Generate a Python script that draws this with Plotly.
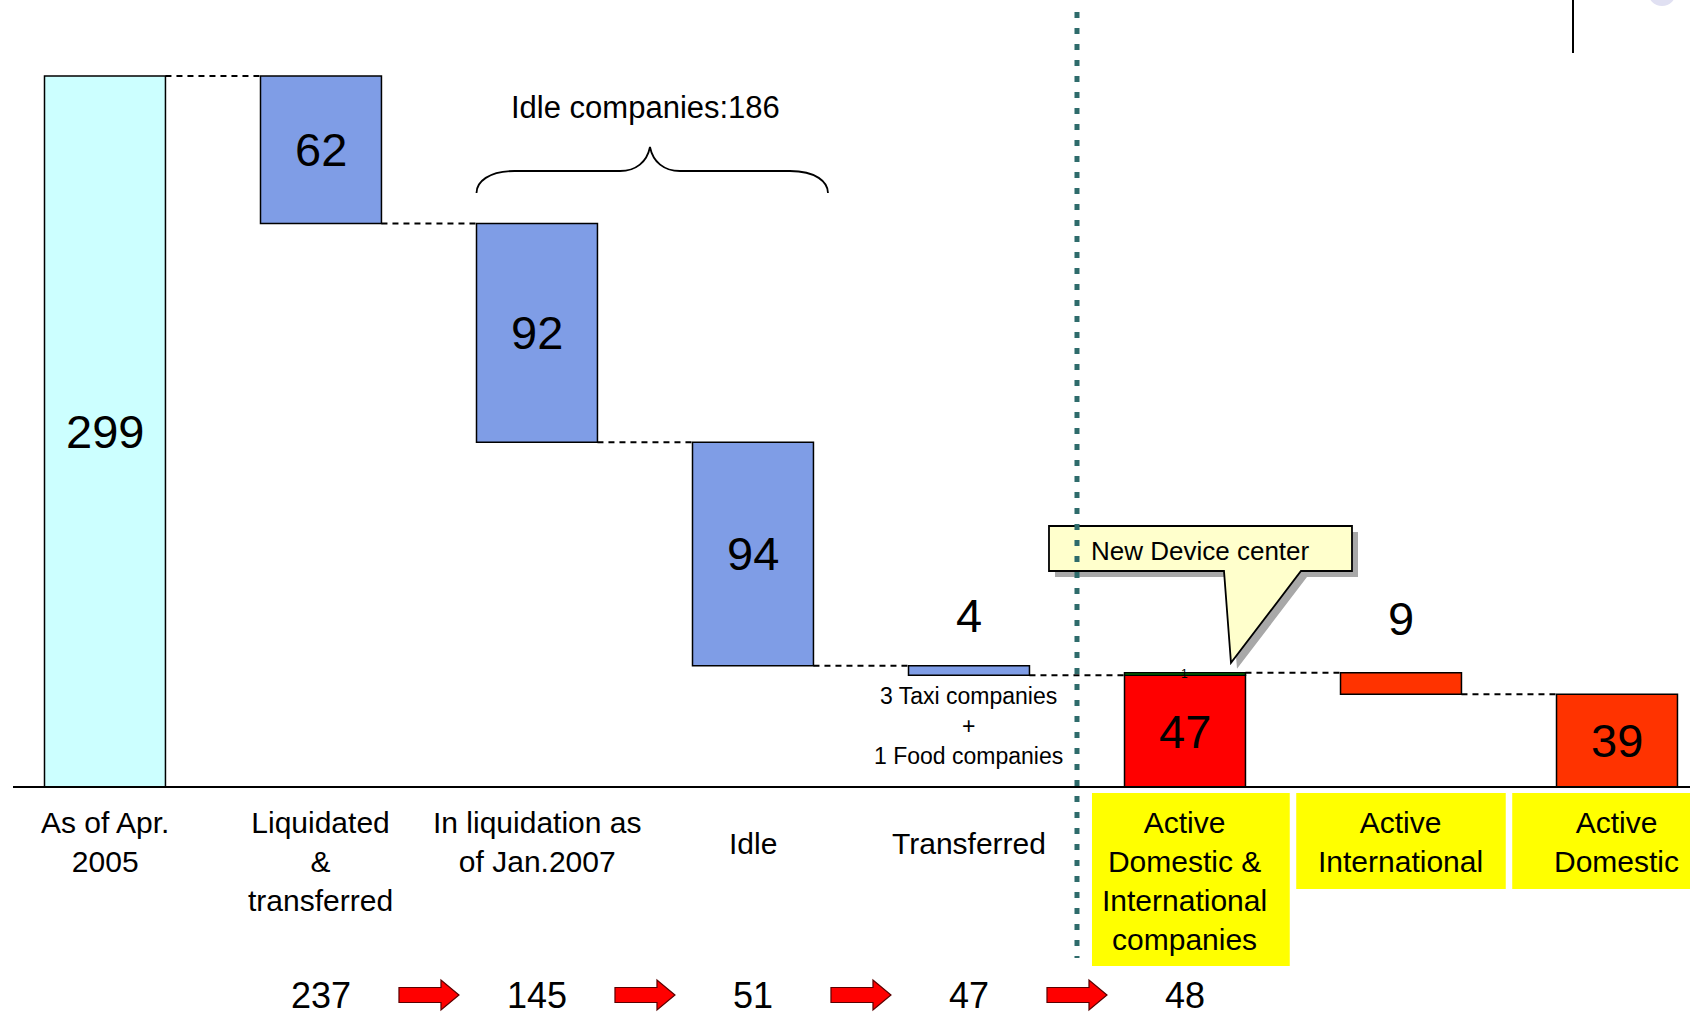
import plotly.graph_objects as go

# ---------------- data ----------------
categories = ["As of Apr.<br>2005", "Liquidated<br>&<br>transferred",
              "In liquidation as<br>of Jan.2007", "Idle", "Transferred",
              "Active<br>Domestic &<br>International<br>companies",
              "Active<br>International", "Active<br>Domestic"]
start_total = 299
decreases = [62, 92, 94, 4]          # liquidated & transferred, in liquidation, idle, transferred
active_both = 47
new_device_center = 1
active_international = 9
active_domestic = 39
remaining = [237, 145, 51, 47, 48]
idle_companies = 186
transferred_note = "3 Taxi companies<br>+<br>1 Food companies"

# ---------------- styling / geometry ----------------
W, H = 1690, 1015
FONT = "Liberation Sans, Arial, Helvetica, sans-serif"
CYAN, BLUE, RED, GREEN, ORANGE = "#CCFFFF", "#7F9DE6", "#FF0000", "#009900", "#FF3300"
YELLOW, CALLOUT = "#FFFF00", "#FFFFCC"
BAR_W = 0.56
x_range = [-0.486, 7.338]
base_px, top_px = 787, 76
px_per_unit = (base_px - top_px) / start_total
y_range = [-(H - base_px) / px_per_unit, base_px / px_per_unit]
px_per_cat = W / (x_range[1] - x_range[0])


def py(p):
    return 1 - p / H


def dx(p):
    return p / px_per_cat


def ypx(v):
    return base_px - v * px_per_unit


# ---------------- bars ----------------
xs, bases, heights, colors = [0], [0], [start_total], [CYAN]
level = start_total
levels = [start_total]
for i, d in enumerate(decreases, start=1):
    level -= d
    xs.append(i); bases.append(level); heights.append(d); colors.append(BLUE)
    levels.append(level)
total_active = active_both + new_device_center
xs += [5, 5, 6, 7]
bases += [0, active_both, total_active - active_international, 0]
heights += [active_both, new_device_center, active_international, active_domestic]
colors += [RED, GREEN, ORANGE, ORANGE]

fig = go.Figure()
fig.add_trace(go.Bar(x=xs, y=heights, base=bases, width=BAR_W,
                     marker=dict(color=colors, line=dict(color="black", width=1.5)),
                     hoverinfo="skip", showlegend=False))

shapes = []
ann = []

# connectors
conn = [(0, start_total)] + [(i, levels[i]) for i in range(1, 4)] + \
       [(4, levels[4]), (5, total_active), (6, total_active - active_international)]
for i, lv in conn:
    shapes.append(dict(type="line", xref="x", yref="y", x0=i + BAR_W / 2, x1=i + 1 - BAR_W / 2,
                       y0=lv, y1=lv, line=dict(color="black", width=2, dash="6px,5px"), layer="below"))

# baseline
shapes.append(dict(type="line", xref="paper", yref="y", x0=13 / W, x1=1, y0=0, y1=0,
                   line=dict(color="black", width=2)))

# value labels inside bars
inside = [(0, 0, start_total), (1, levels[1], decreases[0]), (2, levels[2], decreases[1]),
          (3, levels[3], decreases[2]), (5, 0, active_both), (7, 0, active_domestic)]
for i, b, h in inside:
    ann.append(dict(x=i, y=b + h / 2, xref="x", yref="y", text=str(h), showarrow=False,
                    yanchor="middle", font=dict(size=47, color="black", family=FONT)))
# labels above small bars
ann.append(dict(x=4, y=levels[3], xref="x", yref="y", text=str(decreases[3]), showarrow=False,
                yanchor="bottom", yshift=22, font=dict(size=47, color="black", family=FONT)))
ann.append(dict(x=6, y=total_active, xref="x", yref="y", text=str(active_international),
                showarrow=False, yanchor="bottom", yshift=26,
                font=dict(size=47, color="black", family=FONT)))
ann.append(dict(x=5, y=active_both + new_device_center / 2, xref="x", yref="y",
                text=str(new_device_center), showarrow=False, yanchor="middle",
                font=dict(size=12, color="black", family=FONT)))

# note under transferred bar
ann.append(dict(x=4, y=levels[4], xref="x", yref="y", text=transferred_note, showarrow=False,
                yanchor="top", yshift=-6, font=dict(size=23, color="black", family=FONT)))

# idle companies brace + text
bx0, bx1, bxt = 2 - BAR_W / 2, 3 + dx(75), 2 + dx(113)
yt, ym, ye = py(147), py(171), py(193)
brace = (f"M {bx0},{ye} C {bx0},{py(182)} {bx0 + dx(12)},{ym} {bx0 + dx(38)},{ym} "
         f"L {bxt - dx(30)},{ym} C {bxt - dx(14)},{ym} {bxt - dx(3)},{py(162)} {bxt},{yt} "
         f"C {bxt + dx(3)},{py(162)} {bxt + dx(14)},{ym} {bxt + dx(30)},{ym} "
         f"L {bx1 - dx(38)},{ym} C {bx1 - dx(12)},{ym} {bx1},{py(182)} {bx1},{ye}")
shapes.append(dict(type="path", xref="x", yref="paper", path=brace,
                   line=dict(color="black", width=1.8)))
ann.append(dict(x=bxt - dx(4), y=py(107), xref="x", yref="paper", yanchor="middle",
                text=f"Idle companies:{idle_companies}", showarrow=False,
                font=dict(size=31, color="black", family=FONT)))

# yellow boxes for active categories
for i, bot in [(5, 966), (6, 889), (7, 889)]:
    x0 = 4.5 + dx(15) if i == 5 else i - 0.485
    shapes.append(dict(type="rect", xref="x", yref="paper", x0=x0, x1=i + 0.485,
                       y0=py(bot), y1=py(793), fillcolor=YELLOW, line=dict(width=0), layer="below"))

# callout "New Device center"
tip_y = ypx(total_active) - 10


def callout_path(ox, oy):
    L, R = 5 + dx(-136 + ox), 5 + dx(167 + ox)
    T, B = py(526 + oy), py(571 + oy)
    b1, b2, tp = 5 + dx(39 + ox), 5 + dx(116 + ox), 5 + dx(46 + ox)
    return (f"M {L},{T} L {R},{T} L {R},{B} L {b2},{B} L {tp},{py(tip_y + oy)} "
            f"L {b1},{B} L {L},{B} Z")


shapes.append(dict(type="path", xref="x", yref="paper", path=callout_path(6, 6),
                   fillcolor="#A8A8A8", line=dict(width=0)))
shapes.append(dict(type="path", xref="x", yref="paper", path=callout_path(0, 0),
                   fillcolor=CALLOUT, line=dict(color="black", width=1.8)))
ann.append(dict(x=5 + dx(-96), y=py(551), xref="x", yref="paper", text="New Device center",
                showarrow=False, xanchor="left", yanchor="middle",
                font=dict(size=26, color="black", family=FONT)))

# vertical dotted separator
shapes.append(dict(type="line", xref="x", yref="paper", x0=4.5, x1=4.5, y0=py(12), y1=py(958),
                   line=dict(color="#2E6B6B", width=5, dash="6px,10px")))

# category labels
for i, lab in enumerate(categories):
    if i in (3, 4):
        ann.append(dict(x=i, y=py(843), xref="x", yref="paper", text=lab, showarrow=False,
                        yanchor="middle", font=dict(size=30, color="black", family=FONT)))
    else:
        ann.append(dict(x=i, y=py(804), xref="x", yref="paper", text=lab, showarrow=False,
                        yanchor="top", font=dict(size=30, color="black", family=FONT)))

# bottom sequence with arrows
for k, val in enumerate(remaining):
    ann.append(dict(x=k + 1, y=py(995), xref="x", yref="paper", text=str(val), showarrow=False,
                    yanchor="middle", font=dict(size=36, color="black", family=FONT)))
for k in range(len(remaining) - 1):
    cx = k + 1.5
    p = lambda ox: cx + dx(ox)
    s0, s1, h0, h1 = py(995 - 7.5), py(995 + 7.5), py(995 - 15), py(995 + 15)
    path = (f"M {p(-30)},{s0} L {p(12)},{s0} L {p(12)},{h0} L {p(30)},{py(995)} "
            f"L {p(12)},{h1} L {p(12)},{s1} L {p(-30)},{s1} Z")
    shapes.append(dict(type="path", xref="x", yref="paper", path=path, fillcolor="#FF0000",
                       line=dict(color="#5a0000", width=1.2)))

# decorative slide remnants at top right
shapes.append(dict(type="line", xref="paper", yref="paper", x0=1573 / W, x1=1573 / W,
                   y0=1, y1=py(53), line=dict(color="black", width=2)))
shapes.append(dict(type="circle", xref="paper", yref="paper", x0=1648 / W, x1=1676 / W,
                   y0=py(6), y1=py(-22), fillcolor="#E0E0F2", line=dict(width=0)))

fig.update_layout(
    width=W, height=H, margin=dict(l=0, r=0, t=0, b=0, pad=0),
    plot_bgcolor="white", paper_bgcolor="white", barmode="overlay", showlegend=False,
    xaxis=dict(range=x_range, visible=False, fixedrange=True),
    yaxis=dict(range=y_range, visible=False, fixedrange=True),
    shapes=shapes, annotations=ann, font=dict(family=FONT),
)
fig.write_html("out.html", config={"displayModeBar": False},
               post_script="document.body.style.margin='0';")
